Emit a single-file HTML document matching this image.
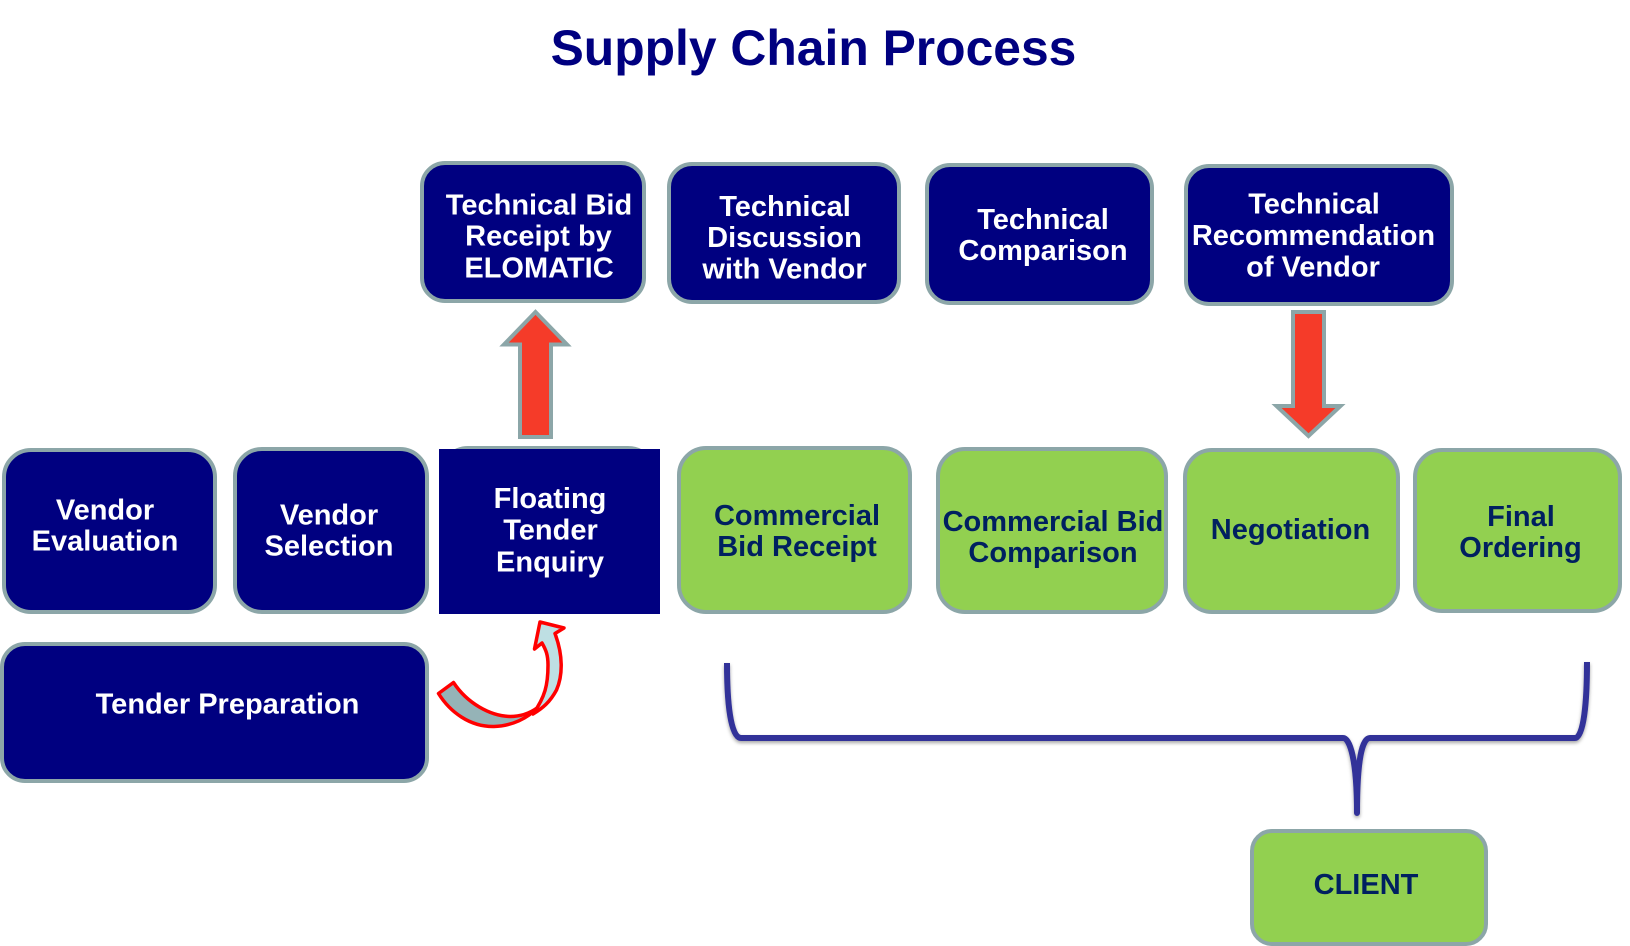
<!DOCTYPE html>
<html><head><meta charset="utf-8"><style>
html,body{margin:0;padding:0;background:#fff;width:1630px;height:946px;overflow:hidden}
svg{display:block}
text{font-family:"Liberation Sans",Arial,sans-serif;font-weight:bold;text-anchor:middle;font-size:29px}
.w{fill:#fff}.g{fill:#002060}
.n{fill:#000080;stroke:#8CA6A8;stroke-width:4}
.c{fill:#92D050;stroke:#8CA6A8;stroke-width:4}
.a{fill:#F53B29;stroke:#8CA6A8;stroke-width:4;stroke-miterlimit:10}
</style></head><body>
<svg width="1630" height="946" viewBox="0 0 1630 946" xmlns="http://www.w3.org/2000/svg">
<defs><filter id="s" x="-5%" y="-20%" width="110%" height="140%"><feDropShadow dx="0" dy="2" stdDeviation="1.8" flood-color="#000" flood-opacity=".35"/></filter></defs>
<text x="813.5" y="65" style="font-size:49.8px" fill="#000080">Supply Chain Process</text>

<rect class="n" x="422" y="163" width="222" height="138" rx="23"/>
<rect class="n" x="669" y="164" width="230" height="138" rx="23"/>
<rect class="n" x="927" y="165" width="225" height="138" rx="23"/>
<rect class="n" x="1186" y="166" width="266" height="138" rx="23"/>
<text class="w" x="539" y="214.5">Technical Bid</text><text class="w" x="538.5" y="245.5">Receipt by</text><text class="w" x="539" y="277.5">ELOMATIC</text>
<text class="w" x="785" y="216">Technical</text><text class="w" x="784.5" y="247">Discussion</text><text class="w" x="784.5" y="278.5">with Vendor</text>
<text class="w" x="1043" y="229">Technical</text><text class="w" x="1043" y="260">Comparison</text>
<text class="w" x="1314" y="213.5">Technical</text><text class="w" x="1313.5" y="245">Recommendation</text><text class="w" x="1313" y="276.5">of Vendor</text>

<polygon class="a" points="535.5,312 567,344.5 551,344.5 551,437 520,437 520,344.5 504,344.5"/>
<polygon class="a" points="1293,312 1324,312 1324,406 1340.5,406 1308.5,436 1276.5,406 1293,406"/>

<rect class="n" x="4" y="450" width="211" height="162" rx="27"/>
<rect class="n" x="235" y="449" width="192" height="163" rx="27"/>
<rect class="n" x="441" y="448" width="214" height="164" rx="27"/>
<rect x="439" y="449" width="221" height="165" fill="#000080"/>
<rect class="n" x="2" y="644" width="425" height="137" rx="23"/>
<text class="w" x="105" y="519.5">Vendor</text><text class="w" x="105" y="550.5">Evaluation</text>
<text class="w" x="329" y="524.5">Vendor</text><text class="w" x="329" y="555.5">Selection</text>
<text class="w" x="550" y="508">Floating</text><text class="w" x="550.5" y="539.5">Tender</text><text class="w" x="550" y="571.5">Enquiry</text>
<text class="w" x="227.5" y="713.5">Tender Preparation</text>

<rect class="c" x="679" y="448" width="231" height="164" rx="27"/>
<rect class="c" x="938" y="449" width="228" height="163" rx="27"/>
<rect class="c" x="1185" y="450" width="213" height="162" rx="27"/>
<rect class="c" x="1415" y="450" width="205" height="161" rx="27"/>
<rect class="c" x="1252" y="831" width="234" height="113" rx="20"/>
<text class="g" x="797" y="525">Commercial</text><text class="g" x="797" y="556">Bid Receipt</text>
<text class="g" x="1053" y="531">Commercial Bid</text><text class="g" x="1053" y="562">Comparison</text>
<text class="g" x="1290.5" y="539">Negotiation</text>
<text class="g" x="1521" y="526">Final</text><text class="g" x="1520.5" y="557">Ordering</text>
<text class="g" x="1366" y="894">CLIENT</text>

<path filter="url(#s)" d="M727 663 C727 700 730 738 741 738 L1343 738 C1350 738 1357 760 1357 813 C1357 760 1362 738 1370 738 L1575 738 C1584 738 1587 700 1587 662" fill="none" stroke="#333399" stroke-width="6" stroke-linecap="butt" stroke-linejoin="round"/>

<g stroke="#FF0000" stroke-width="3.5" stroke-linejoin="round">
<path fill="#95B3B7" d="M438.5 693.5 L453.5 682.5 C467 703 490 716 510 716.5 C522 716.5 530 713 537 708 C528 718 512 726 494 726.5 C470 727 450 712 438.5 693.5 Z"/>
<path fill="#BEDFE3" d="M534.5 649 L540 622 L564 628 L555 633.5 C563 655 563 675 556.5 690 C550 702 543 708 533 714 C545 697 548 685 548 665 C548 655 546 650 542 643 Z"/>
</g>
</svg>
</body></html>
